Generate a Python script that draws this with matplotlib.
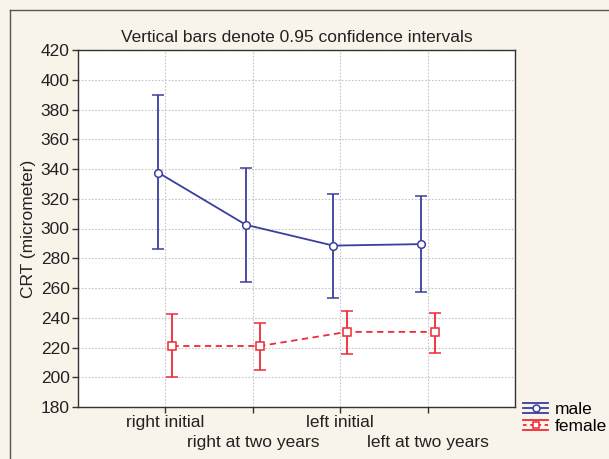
import matplotlib
matplotlib.use("Agg")
import matplotlib.pyplot as plt
from matplotlib.lines import Line2D
from matplotlib.legend_handler import HandlerBase
import numpy as np

plt.rcParams['font.family'] = ['Liberation Sans', 'DejaVu Sans']

categories = ['right initial', 'right at two years', 'left initial', 'left at two years']
male_mean = [337.5, 302.5, 288.5, 289.5]
male_low = [286, 264, 253, 257]
male_high = [390, 341, 323.5, 322]
female_mean = [221, 221, 230.5, 230.5]
female_low = [200, 205, 215.5, 216.5]
female_high = [242.5, 236.5, 244.5, 243]
yticks = list(range(180, 421, 20))

bg = '#f9f4ea'
blue = '#3a3f9c'
red = '#ee2a35'
FS = 12.5

fig = plt.figure(figsize=(6.09, 4.59), dpi=100, facecolor=bg)
ax = fig.add_axes([78/609, 1-407/459, (515-78)/609, (407-50)/459])
ax.set_facecolor('white')

x = np.arange(1, len(categories) + 1)
off = 0.08
mm = np.array(male_mean); fm = np.array(female_mean)
male_err = [mm - np.array(male_low), np.array(male_high) - mm]
fem_err = [fm - np.array(female_low), np.array(female_high) - fm]

h1 = ax.errorbar(x - off, mm, yerr=male_err, color=blue, lw=1.3, capsize=4.5, capthick=1.3,
                 marker='o', ms=5.5, mfc='white', mec=blue, mew=1.1, label='male', zorder=3)
h2 = ax.errorbar(x + off, fm, yerr=fem_err, color=red, lw=1.3, ls=(0, (3.5, 2.5)), capsize=4.5, capthick=1.3,
                 marker='s', ms=5.5, mfc='white', mec=red, mew=1.1, label='female', zorder=3)
h2[2][0].set_linestyle('-')

ax.set_xlim(0, 5)
ax.set_ylim(180, 420)
ax.set_yticks(yticks)
# alternate rows of category labels: odd positions as major ticks, even as minor ticks with larger pad
ax.set_xticks(x[0::2])
ax.set_xticklabels(categories[0::2])
ax.set_xticks(x[1::2], minor=True)
ax.set_xticklabels(categories[1::2], minor=True)
ax.grid(True, which='both', color='#c4c4c4', ls=(0, (1.5, 1.5)), lw=0.8)
ax.set_axisbelow(True)
ax.tick_params(axis='both', which='both', labelsize=FS, length=4, width=1.0, color='#333333',
               labelcolor='#222222', pad=2)
ax.tick_params(axis='x', which='minor', pad=16)
for s in ax.spines.values():
    s.set_color('#333333'); s.set_linewidth(1.0)
ax.set_ylabel('CRT (micrometer)', fontsize=FS, color='#222222', labelpad=3)
ax.set_title('Vertical bars denote 0.95 confidence intervals', fontsize=FS, color='#222222', pad=6)


class HandlerCI(HandlerBase):
    def __init__(self, color, marker, ls):
        super().__init__()
        self.color, self.marker, self.ls = color, marker, ls

    def create_artists(self, legend, orig_handle, xdescent, ydescent, width, height, fontsize, trans):
        ym = height / 2 - ydescent
        d = height * 0.42
        arts = []
        for yy in (ym + d, ym - d):
            arts.append(Line2D([-xdescent, width - xdescent], [yy, yy], color=self.color, lw=1.3, transform=trans))
        mid = Line2D([-xdescent, width - xdescent], [ym, ym], color=self.color, lw=1.3, ls=self.ls, transform=trans)
        mk = Line2D([width / 2 - xdescent], [ym], color=self.color, marker=self.marker, ms=5,
                    mfc='white', mec=self.color, mew=1.1, ls='none', transform=trans)
        arts += [mid, mk]
        return arts


fig.legend(handles=[h1, h2], labels=['male', 'female'], loc='upper left',
           bbox_to_anchor=(523/609, 1-402/459), frameon=False, fontsize=FS,
           handlelength=1.45, handletextpad=0.4, borderpad=0.0, borderaxespad=0.0, labelspacing=0.12,
           handler_map={h1: HandlerCI(blue, 'o', '-'), h2: HandlerCI(red, 's', (0, (2, 2)))})

fig.add_artist(Line2D([10/609, 10/609], [0, 1-10/459], transform=fig.transFigure, color='#555555', lw=1.0))
fig.add_artist(Line2D([10/609, 1], [1-10/459, 1-10/459], transform=fig.transFigure, color='#555555', lw=1.0))

fig.savefig('out.png', dpi=100, facecolor=bg)
